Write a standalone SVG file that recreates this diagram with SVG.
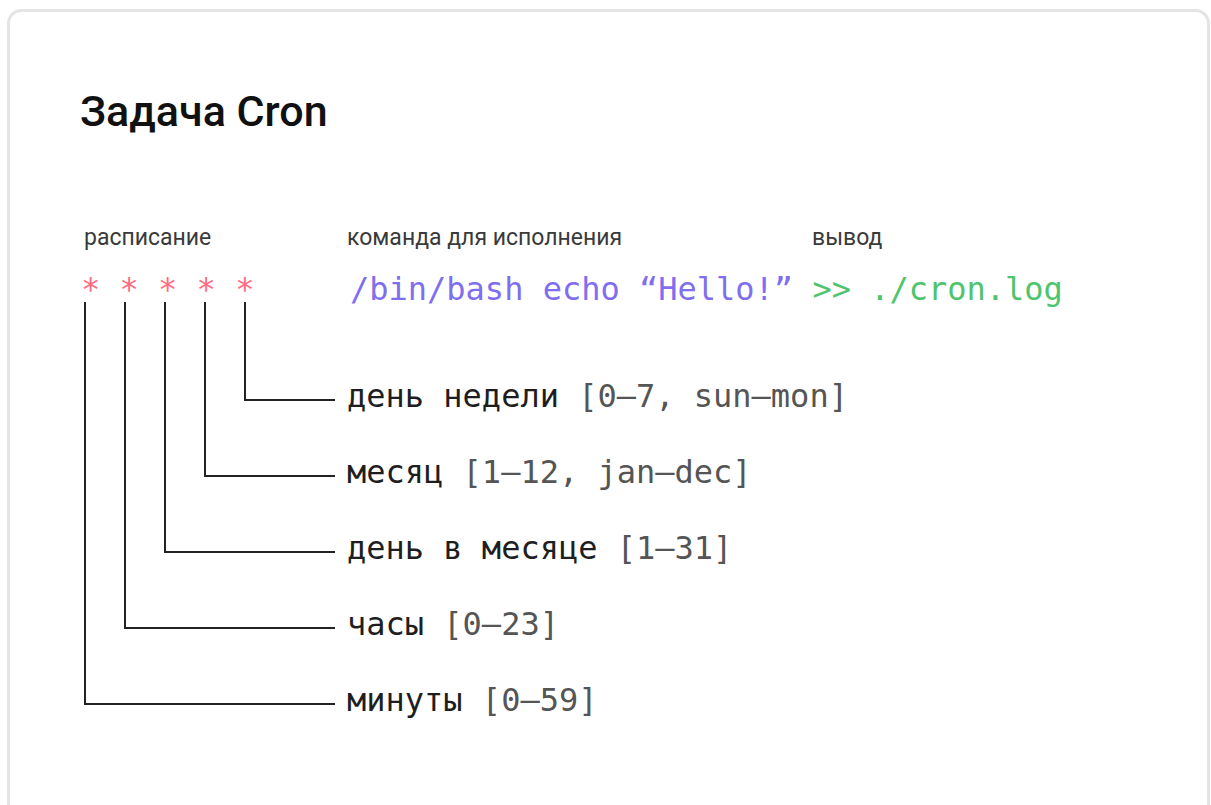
<svg xmlns="http://www.w3.org/2000/svg" width="1211" height="805" viewBox="0 0 1211 805">
<style>
.card{fill:#ffffff;stroke:#e4e4e4;stroke-width:3}
.title{font-family:Roboto,"Noto Sans",sans-serif;font-weight:500;font-size:43px;fill:#111}
.cap{font-family:Roboto,"Noto Sans",sans-serif;font-size:23px;fill:#3a3a3a}
.mono{font-family:"DejaVu Sans Mono","Liberation Mono",monospace;font-size:32px}
.star{fill:#ff6b81}
.cmd{fill:#7f6ff0}
.out{fill:#4fc46e}
.lbl{fill:#1e1e1e}
.rng{fill:#555}
.conn{fill:none;stroke:#222;stroke-width:2}
</style>
<rect width="1211" height="805" fill="#ffffff"/>
<rect class="card" x="8.5" y="10.5" width="1200" height="830" rx="13"/>
<g id="title"><text class="title" x="80" y="126">Задача Cron</text></g>
<g id="captions">
<text class="cap" x="84" y="245">расписание</text>
<text class="cap" x="347" y="245">команда для исполнения</text>
<text class="cap" x="812" y="245">вывод</text>
</g>
<g id="schedule"><text class="mono star" x="81" y="300" xml:space="preserve">* * * * *</text></g>
<g id="command"><text class="mono cmd" x="350" y="300" xml:space="preserve">/bin/bash echo “Hello!” <tspan class="out">&gt;&gt; ./cron.log</tspan></text></g>
<g id="connectors">
<path class="conn" d="M245 302 V400 H335"/>
<path class="conn" d="M205 302 V476 H335"/>
<path class="conn" d="M165 302 V552 H335"/>
<path class="conn" d="M125 302 V628 H335"/>
<path class="conn" d="M85 302 V704 H335"/>
</g>
<g id="weekday"><text class="mono" x="347" y="407"><tspan class="lbl">день недели </tspan><tspan class="rng">[0–7, sun–mon]</tspan></text></g>
<g id="month"><text class="mono" x="347" y="483"><tspan class="lbl">месяц </tspan><tspan class="rng">[1–12, jan–dec]</tspan></text></g>
<g id="monthday"><text class="mono" x="347" y="559"><tspan class="lbl">день в месяце </tspan><tspan class="rng">[1–31]</tspan></text></g>
<g id="hours"><text class="mono" x="347" y="635"><tspan class="lbl">часы </tspan><tspan class="rng">[0–23]</tspan></text></g>
<g id="minutes"><text class="mono" x="347" y="711"><tspan class="lbl">минуты </tspan><tspan class="rng">[0–59]</tspan></text></g>
</svg>
